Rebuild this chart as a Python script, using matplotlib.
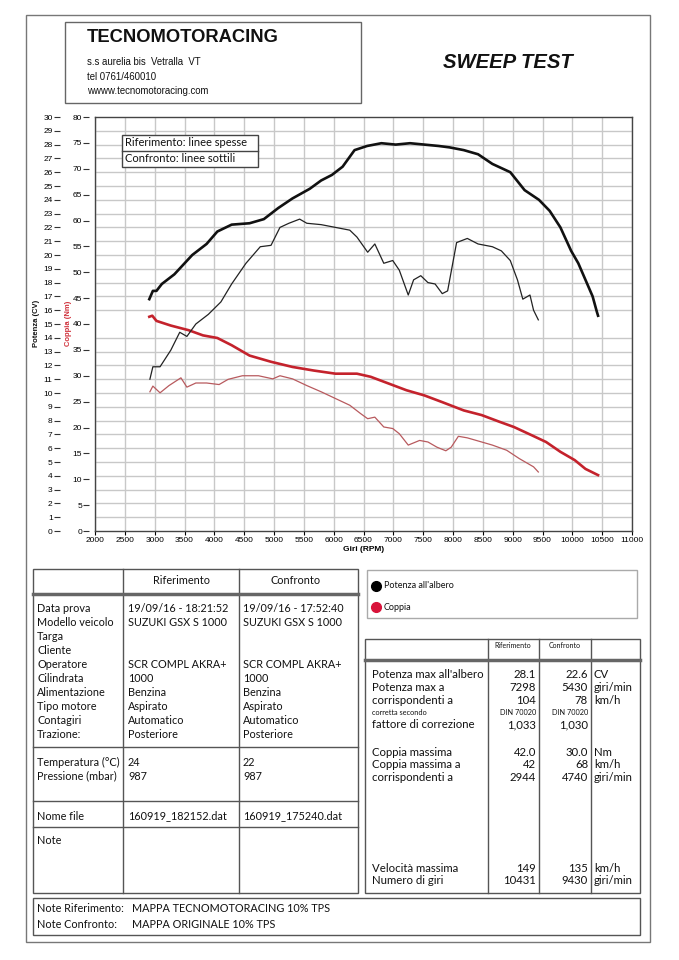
import numpy as np
import matplotlib
matplotlib.use('Agg')
import matplotlib.pyplot as plt
from matplotlib.patches import Rectangle
from matplotlib.lines import Line2D

# curve data (rpm, CV / Nm)
rif_cv_rpm = [2910, 2970, 3030, 3120, 3330, 3630, 3870, 4050, 4290, 4590, 4830,
              5070, 5310, 5600, 5790, 5970, 6150, 6250, 6350, 6560, 6800, 7040,
              7280, 7520, 7760, 7940, 8180, 8420, 8660, 8960, 9200, 9440, 9620,
              9800, 9980, 10100, 10220, 10340, 10410, 10431]
rif_cv = [16.8, 17.4, 17.4, 17.9, 18.6, 20.0, 20.8, 21.7, 22.2, 22.3, 22.6,
          23.4, 24.1, 24.8, 25.4, 25.8, 26.4, 27.0, 27.6, 27.9, 28.1, 28.0,
          28.1, 28.0, 27.9, 27.8, 27.6, 27.3, 26.6, 26.0, 24.7, 24.0, 23.2,
          22.0, 20.3, 19.4, 18.2, 17.0, 15.9, 15.6]

conf_cv_rpm = [2920, 2970, 3090, 3270, 3420, 3540, 3690, 3900, 4110, 4290, 4530,
               4770, 4950, 5100, 5250, 5430, 5550, 5790, 6030, 6270, 6390, 6570,
               6690, 6840, 6990, 7100, 7250, 7340, 7460, 7580, 7700, 7820, 7910,
               8060, 8240, 8420, 8660, 8810, 8960, 9080, 9170, 9290, 9350, 9430]
conf_cv = [11.0, 11.9, 11.9, 13.1, 14.4, 14.1, 15.0, 15.7, 16.6, 17.9, 19.4,
           20.6, 20.7, 22.0, 22.3, 22.6, 22.3, 22.2, 22.0, 21.8, 21.3, 20.2,
           20.8, 19.4, 19.6, 18.9, 17.1, 18.2, 18.5, 18.0, 17.9, 17.2, 17.4,
           20.9, 21.2, 20.8, 20.6, 20.3, 19.6, 18.2, 16.8, 17.1, 16.0, 15.3]

rif_nm_rpm = [2910, 2960, 3030, 3270, 3570, 3810, 4050, 4290, 4590, 4950, 5310,
              5670, 6030, 6390, 6620, 6920, 7220, 7520, 7820, 8180, 8480, 8780,
              9020, 9320, 9560, 9800, 10040, 10220, 10431]
rif_nm = [41.4, 41.6, 40.6, 39.7, 38.8, 37.8, 37.3, 35.9, 33.9, 32.7, 31.7,
          31.0, 30.4, 30.4, 29.8, 28.5, 27.2, 26.2, 24.9, 23.3, 22.4, 21.1,
          20.1, 18.5, 17.2, 15.3, 13.7, 12.0, 10.8]

conf_nm_rpm = [2920, 2970, 3090, 3240, 3440, 3540, 3690, 3870, 4080, 4230, 4470,
               4740, 4980, 5100, 5310, 5550, 5790, 6030, 6270, 6450, 6570, 6690,
               6840, 6990, 7100, 7250, 7440, 7580, 7730, 7880, 7970, 8090, 8240,
               8420, 8660, 8900, 9110, 9260, 9350, 9430]
conf_nm = [26.9, 28.0, 26.7, 28.1, 29.6, 27.8, 28.6, 28.6, 28.3, 29.3, 30.0,
           30.0, 29.4, 30.0, 29.4, 28.1, 26.9, 25.6, 24.3, 22.7, 21.7, 22.0,
           20.1, 19.8, 18.8, 16.6, 17.5, 17.2, 16.2, 15.5, 16.2, 18.3, 18.0,
           17.4, 16.6, 15.6, 14.0, 13.0, 12.4, 11.4]

rpm_ticks = list(range(2000, 11001, 500))
nm_ticks = list(range(0, 81, 5))
cv_ticks = list(range(0, 31))

# test info table
info_labels = ["Data prova", "Modello veicolo", "Targa", "Cliente", "Operatore",
               "Cilindrata", "Alimentazione", "Tipo motore", "Contagiri", "Trazione:"]
rif_info = ["19/09/16 - 18:21:52", "SUZUKI GSX S 1000", "", "", "SCR COMPL AKRA+",
            "1000", "Benzina", "Aspirato", "Automatico", "Posteriore"]
conf_info = ["19/09/16 - 17:52:40", "SUZUKI GSX S 1000", "", "", "SCR COMPL AKRA+",
             "1000", "Benzina", "Aspirato", "Automatico", "Posteriore"]
env_labels = ["Temperatura (°C)", "Pressione (mbar)"]
rif_env = ["24", "987"]
conf_env = ["22", "987"]
rif_file = "160919_182152.dat"
conf_file = "160919_175240.dat"

# results table
pot_labels = ["Potenza max all'albero", "Potenza max a", "corrispondenti a",
              "corretta secondo", "fattore di correzione"]
pot_rif = ["28.1", "7298", "104", "DIN 70020", "1,033"]
pot_conf = ["22.6", "5430", "78", "DIN 70020", "1,030"]
pot_units = ["CV", "giri/min", "km/h", "", ""]
cop_labels = ["Coppia massima", "Coppia massima a", "corrispondenti a"]
cop_rif = ["42.0", "42", "2944"]
cop_conf = ["30.0", "68", "4740"]
cop_units = ["Nm", "km/h", "giri/min"]
vel_labels = ["Velocità massima", "Numero di giri"]
vel_rif = ["149", "10431"]
vel_conf = ["135", "9430"]
vel_units = ["km/h", "giri/min"]

note_rif = "MAPPA TECNOMOTORACING 10% TPS"
note_conf = "MAPPA ORIGINALE 10% TPS"

W, H = 679, 960
fig = plt.figure(figsize=(W / 100, H / 100), dpi=100)
tfont = 'Lato'
hfont = 'Liberation Sans'
edge = '#555555'


def fx(x):
    return x / W


def fy(y):
    return 1 - y / H


def box(x0, y0, x1, y1, lw=1.0, color=edge):
    fig.add_artist(Rectangle((fx(x0), fy(y1)), fx(x1) - fx(x0), fy(y0) - fy(y1),
                             fill=False, lw=lw, ec=color,
                             transform=fig.transFigure))


def hline(x0, x1, y, lw=1.0, color=edge):
    fig.add_artist(Line2D([fx(x0), fx(x1)], [fy(y), fy(y)], lw=lw, color=color,
                          transform=fig.transFigure))


def vline(x, y0, y1, lw=1.0, color=edge):
    fig.add_artist(Line2D([fx(x), fx(x)], [fy(y0), fy(y1)], lw=lw, color=color,
                          transform=fig.transFigure))


def txt(x, y, s, size=7.8, family=tfont, **kw):
    fig.text(fx(x), fy(y), s, va='center', fontsize=size, family=family,
             color=kw.pop('color', '#111111'), **kw)


# ---- header
box(26, 15, 650, 942, lw=1.0, color='#777777')
box(65, 22, 361, 103, lw=1.0, color='#666666')
txt(87, 38, "TECNOMOTORACING", size=13.2, family=hfont, weight='bold')
txt(87, 62, "s.s aurelia bis  Vetralla  VT", size=6.9, family=hfont)
txt(87, 77, "tel 0761/460010", size=6.9, family=hfont)
txt(87, 91, "wwww.tecnomotoracing.com", size=6.9, family=hfont)
txt(508, 62, "SWEEP TEST", size=14.6, family=hfont, weight='bold',
    style='italic', ha='center')

# ---- chart
ax = fig.add_axes([fx(95), fy(531), fx(632) - fx(95), fy(117) - fy(531)])
ax.set_xlim(2000, 11000)
ax.set_ylim(0, 80)
ax.set_xticks(rpm_ticks)
ax.set_yticks(nm_ticks)
ax.set_yticks(np.linspace(0, 80, len(cv_ticks)), minor=True)
ax.grid(True, axis='x', which='major', color='#c8c8c8', lw=1)
ax.grid(True, axis='y', which='minor', color='#c8c8c8', lw=1)
ax.set_axisbelow(True)
ax.tick_params(axis='y', which='both', length=0, labelleft=False)
ax.tick_params(axis='x', length=3, width=0.8, labelsize=6, pad=1.5)
for lab in ax.get_xticklabels():
    lab.set_family(hfont)
for s in ax.spines.values():
    s.set_color('#444444')
    s.set_linewidth(1)
ax.set_xlabel("Giri (RPM)", fontsize=6, family=hfont, weight='bold', labelpad=1)

sec = ax.secondary_yaxis(-0.011)
sec.set_yticks(nm_ticks)
sec.spines['left'].set_visible(False)
sec.tick_params(length=4, width=0.8, labelsize=6, pad=1, color='#333333')
for lab in sec.get_yticklabels():
    lab.set_family(hfont)

ax2 = ax.twinx()
ax2.set_ylim(0, 30)
ax2.set_yticks(cv_ticks)
ax2.yaxis.tick_left()
ax2.spines['left'].set_position(('axes', -0.066))
for s in ax2.spines.values():
    s.set_visible(False)
ax2.tick_params(length=4, width=0.8, labelsize=6, pad=1, color='#333333')
for lab in ax2.get_yticklabels():
    lab.set_family(hfont)

ax.plot(rif_nm_rpm, rif_nm, color='#c4222c', lw=1.9)
ax.plot(conf_nm_rpm, conf_nm, color='#b85a5e', lw=0.9)
ax2.plot(rif_cv_rpm, rif_cv, color='#111111', lw=1.9)
ax2.plot(conf_cv_rpm, conf_cv, color='#222222', lw=0.9)

txt(37, 323, "Potenza (CV)", size=5.5, family=hfont, weight='bold',
    rotation=90, ha='center')
txt(68, 323, "Coppia (Nm)", size=5.5, family=hfont, weight='bold',
    rotation=90, ha='center', color='#d0303a')

# line-style legend inside the chart
fig.add_artist(Rectangle((fx(122), fy(167)), fx(258) - fx(122), fy(135) - fy(167),
                         fc='white', ec='#444444', lw=1,
                         transform=fig.transFigure))
hline(122, 258, 151, color='#444444')
txt(125, 143, "Riferimento: linee spesse", size=8)
txt(125, 159, "Confronto: linee sottili", size=8)

# ---- left info table
box(33, 569, 358, 893)
vline(123, 569, 893)
vline(239, 569, 893)
hline(33, 358, 594, lw=2.5, color='#666666')
hline(33, 358, 747)
hline(33, 358, 801)
hline(33, 358, 827)
txt(181, 581, "Riferimento", ha='center')
txt(296, 581, "Confronto", ha='center')
for i, lab in enumerate(info_labels):
    y = 608 + 14 * i
    txt(37, y, lab)
    txt(128, y, rif_info[i])
    txt(243, y, conf_info[i])
for i, lab in enumerate(env_labels):
    y = 762 + 14 * i
    txt(37, y, lab)
    txt(128, y, rif_env[i])
    txt(243, y, conf_env[i])
txt(37, 816, "Nome file")
txt(128, 816, rif_file)
txt(243, 816, conf_file)
txt(37, 840, "Note")

# ---- legend box
box(367, 570, 637, 618, color='#aaaaaa')
fig.add_artist(Line2D([fx(376)], [fy(586)], marker='o', ms=7, color='black',
                      transform=fig.transFigure))
fig.add_artist(Line2D([fx(376)], [fy(607)], marker='o', ms=7, color='#d8133a',
                      transform=fig.transFigure))
txt(384, 586, "Potenza all'albero", size=6.5)
txt(384, 607, "Coppia", size=6.5)

# ---- right results table
box(365, 639, 640, 893)
vline(488, 639, 893)
vline(539, 639, 893)
vline(591, 639, 893)
hline(365, 640, 660, lw=2.5, color='#666666')
txt(513, 646, "Riferimento", size=5, ha='center')
txt(565, 646, "Confronto", size=5, ha='center')


def result_rows(y0, labels, rif, conf, units, step=12.8):
    for i, lab in enumerate(labels):
        y = y0 + step * i
        small = lab == "corretta secondo"
        size = 5.3 if small else 8.2
        txt(372, y, lab, size=size)
        txt(536, y, rif[i], size=size, ha='right')
        txt(588, y, conf[i], size=size, ha='right')
        txt(594, y, units[i], size=size)


result_rows(675, pot_labels, pot_rif, pot_conf, pot_units, step=12.5)
result_rows(752, cop_labels, cop_rif, cop_conf, cop_units)
result_rows(868, vel_labels, vel_rif, vel_conf, vel_units)

# ---- notes
box(33, 898, 640, 935)
txt(37, 909, "Note Riferimento:")
txt(132, 909, note_rif)
txt(37, 925, "Note Confronto:")
txt(132, 925, note_conf)

fig.savefig('out.png', dpi=100)
